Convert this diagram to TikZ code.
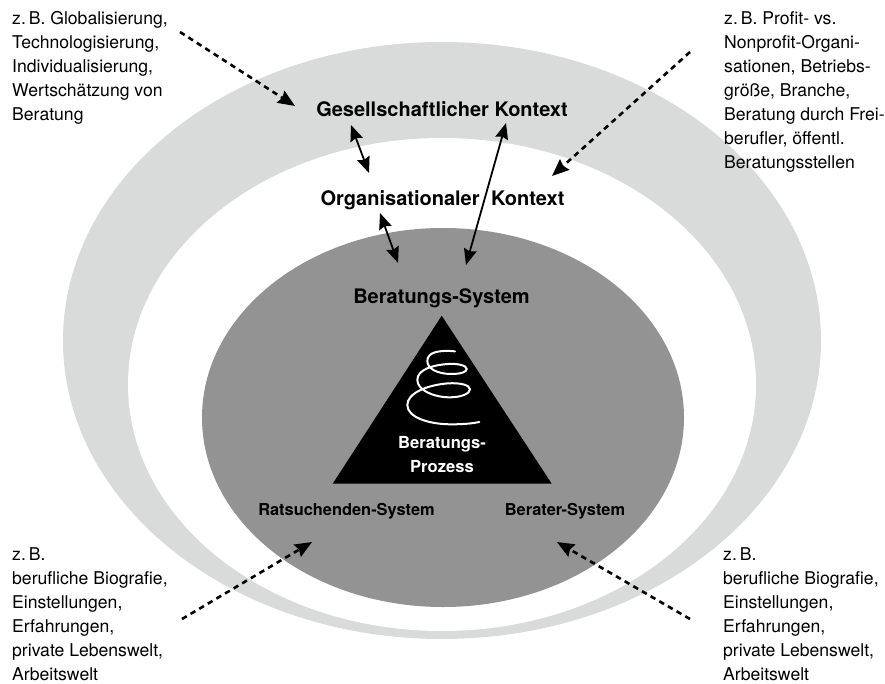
\documentclass[tikz,border=0pt]{standalone}
\usepackage{fontspec}
\setmainfont{TeX Gyre Heros}
\usetikzlibrary{arrows.meta}
\definecolor{lightband}{HTML}{D9DBDA}
\definecolor{midgrey}{HTML}{939393}
\tikzset{
  note/.style={anchor=north west,align=left,inner sep=0pt,font=\fontsize{17.6}{24}\selectfont},
  ctx/.style={anchor=base,inner sep=0pt,font=\fontsize{20}{24}\bfseries\selectfont},
  sys/.style={anchor=base,inner sep=0pt,font=\fontsize{16.4}{20}\bfseries\selectfont},
  proc/.style={anchor=base,inner sep=0pt,text=white,font=\fontsize{16.6}{20}\bfseries\selectfont},
  link/.style={line width=1.8pt,{Stealth[length=16pt,width=13pt,inset=2pt]}-{Stealth[length=16pt,width=13pt,inset=2pt]}},
  hint/.style={line width=2.6pt,dash pattern=on 5.5pt off 4.5pt,-{Stealth[length=17pt,width=14pt,inset=2pt]}}
}
\begin{document}
\begin{tikzpicture}[x=1pt,y=-1pt]
\useasboundingbox (0,0) rectangle (885,684);
\fill[lightband] (442,340.5) ellipse [x radius=379,y radius=298.5];
\fill[white] (442,384.5) ellipse [x radius=314,y radius=246.5];
\fill[midgrey] (443,417.5) ellipse [x radius=241,y radius=189.5];
\fill[black] (441.7,315.7) -- (551.7,483.7) -- (332.7,483.7) -- cycle;
\begin{scope}[shift={(320,300)},x=0.3333pt,y=-0.3333pt]
\draw[white,line width=2pt,line cap=round]
 (405,154) .. controls (360,150) and (322,155) .. (322,183)
 .. controls (322,205) and (350,222) .. (395,222)
 .. controls (425,222) and (440,215) .. (440,207)
 .. controls (440,197) and (415,190) .. (385,192)
 .. controls (335,195) and (292,210) .. (292,240)
 .. controls (292,270) and (340,292) .. (390,292)
 .. controls (425,292) and (450,280) .. (450,268)
 .. controls (450,255) and (420,248) .. (385,250)
 .. controls (320,255) and (262,280) .. (262,315)
 .. controls (262,350) and (320,372) .. (390,373)
 .. controls (420,373) and (450,372) .. (478,366);
\end{scope}

\node[note] (n1) at (12,11) {z.\,B. Globalisierung,\\Technologisierung,\\Individualisierung,\\Wertschätzung von\\Beratung};
\node[note] (n2) at (724,11) {z.\,B. Profit- vs.\\Nonprofit-Organi-\\sationen, Betriebs-\\größe, Branche,\\Beratung durch Frei-\\berufler, öffentl.\\Beratungsstellen};
\node[note] (n3) at (12,547.5) {z.\,B.\\berufliche Biografie,\\Einstellungen,\\Erfahrungen,\\private Lebenswelt,\\Arbeitswelt};
\node[note] (n4) at (723,547.5) {z.\,B.\\berufliche Biografie,\\Einstellungen,\\Erfahrungen,\\private Lebenswelt,\\Arbeitswelt};

\node[ctx] (gk) at (442,117) {Gesellschaftlicher Kontext};
\node[ctx] (ok) at (442.5,206) {Organisationaler\hspace{6pt} Kontext};
\node[sys] (bs) at (441.5,303) {\fontsize{20}{24}\selectfont Beratungs-System};
\node[proc] (bp1) at (442,448) {Beratungs-};
\node[proc] (bp2) at (442,472) {Prozess};
\node[sys] (rs) at (346.5,515) {Ratsuchenden-System};
\node[sys] (bes) at (565,515) {Berater-System};

\coordinate (a1s) at (180,32);  \coordinate (a1e) at (295,106);
\coordinate (a2s) at (690,52);  \coordinate (a2e) at (552,176);
\coordinate (a3s) at (182,619); \coordinate (a3e) at (312,542);
\coordinate (a4s) at (690,619); \coordinate (a4e) at (557,542);
\coordinate (l1s) at (351,125); \coordinate (l1e) at (369,173);
\coordinate (l2s) at (380,213); \coordinate (l2e) at (398,263);
\coordinate (l3s) at (506,123); \coordinate (l3e) at (466,265);

\draw[hint] (a1s) -- (a1e);
\draw[hint] (a2s) -- (a2e);
\draw[hint] (a3s) -- (a3e);
\draw[hint] (a4s) -- (a4e);
\draw[link] (l1s) -- (l1e);
\draw[link] (l2s) -- (l2e);
\draw[link] (l3s) -- (l3e);
\end{tikzpicture}
\end{document}
